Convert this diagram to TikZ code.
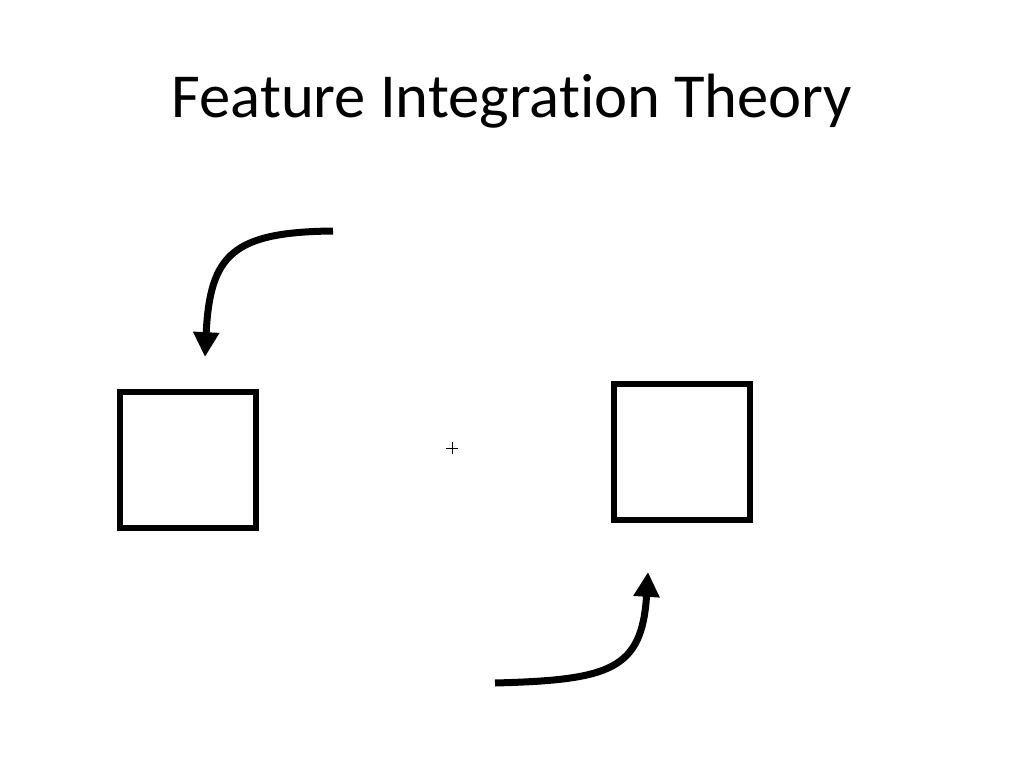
\documentclass[tikz,border=0pt]{standalone}
\usepackage{fontspec}
\setmainfont{Carlito}[Ligatures=NoCommon]
\usetikzlibrary{arrows.meta}

\begin{document}
\begin{tikzpicture}[x=0.025cm, y=-0.025cm, font=\fontsize{44.5}{53}\selectfont,
    box/.style={draw, line width=0.15cm, minimum width=3.4cm, minimum height=3.4cm, inner sep=0pt},
    turn/.style={line width=0.175cm, -{Triangle[length=0.62cm, width=0.62cm]}}]
  \useasboundingbox (0,0) rectangle (1024,768);

  % Title
  \node[anchor=base] (title) at (512,118) {Feature Integration Theory};

  % Boxes and fixation cross
  \node[box] (leftbox) at (188,460) {};
  \node[box] (rightbox) at (682,452) {};
  \draw[line width=0.02cm] (446,448) -- (458,448) (452,442) -- (452,454);
  \coordinate (fix) at (452,448);

  % Arrows
  \coordinate (upperstart) at (333,231);
  \coordinate (uppertip) at (205,357);
  \coordinate (lowerstart) at (495,683);
  \coordinate (lowertip) at (648,572);
  \draw[turn] (upperstart) .. controls (232,232) and (210,255) .. (uppertip);
  \draw[turn] (lowerstart) .. controls (610,680) and (642,670) .. (lowertip);
\end{tikzpicture}
\end{document}
